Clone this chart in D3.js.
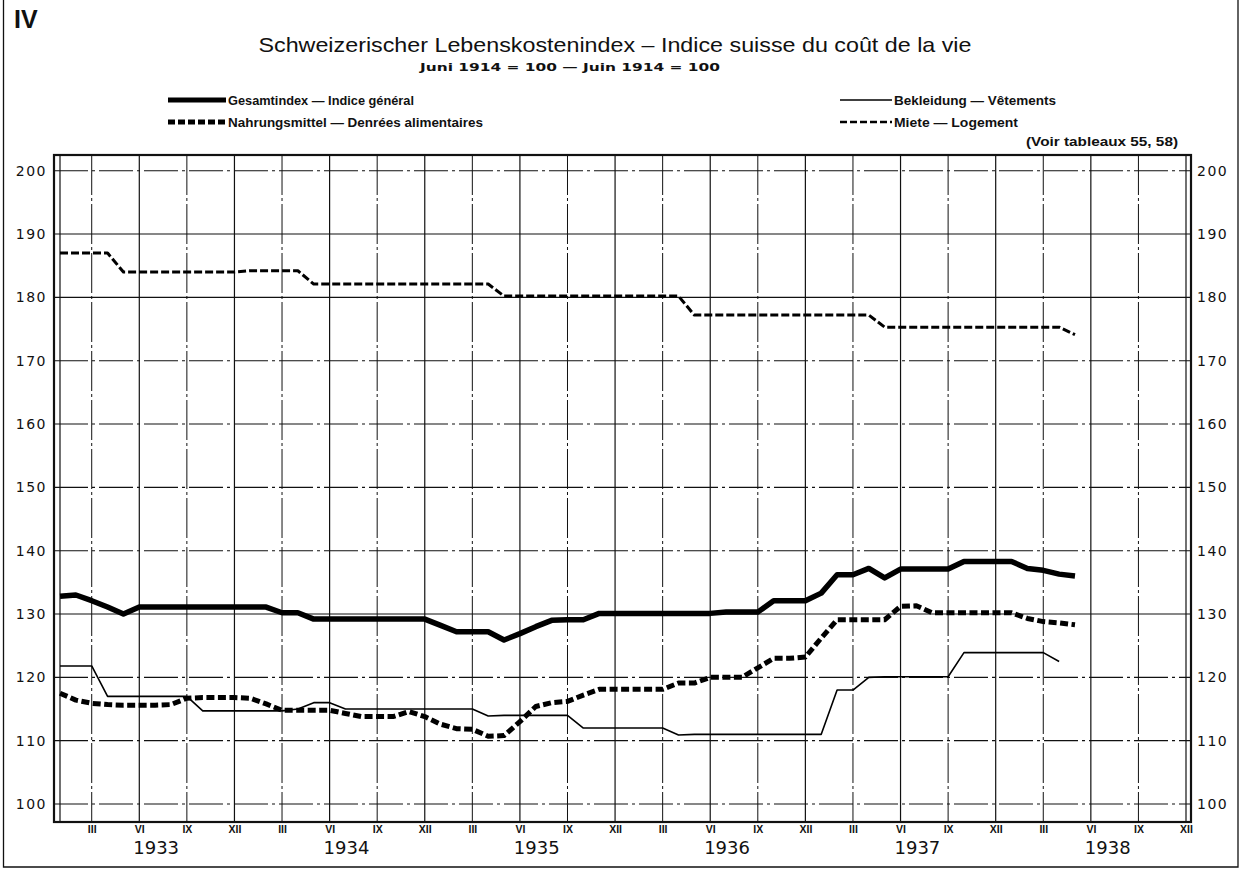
<!DOCTYPE html>
<html><head><meta charset="utf-8">
<script src="https://cdn.jsdelivr.net/npm/d3@7"></script>
<style>body{margin:0;background:#fff}svg{display:block}</style>
</head><body>
<svg id="c" width="1243" height="869"></svg>
<script>
// ---- DATA (monthly, first value = January 1933) ----
const gesamtindex = [132.8,133.0,132.1,131.1,130.0,131.1,131.1,131.1,131.1,131.1,131.1,131.1,
  131.1,131.1,130.2,130.2,129.2,129.2,129.2,129.2,129.2,129.2,129.2,129.2,
  128.2,127.2,127.2,127.2,125.9,126.9,128.0,129.0,129.1,129.1,130.1,130.1,
  130.1,130.1,130.1,130.1,130.1,130.1,130.3,130.3,130.3,132.1,132.1,132.1,
  133.3,136.2,136.2,137.2,135.7,137.1,137.1,137.1,137.1,138.3,138.3,138.3,
  138.3,137.2,136.9,136.3,136.0];
const nahrungsmittel = [117.5,116.4,115.9,115.7,115.6,115.6,115.6,115.7,116.7,116.8,116.8,116.8,
  116.7,115.8,114.8,114.8,114.8,114.8,114.3,113.8,113.8,113.8,114.6,113.8,
  112.6,111.9,111.8,110.7,110.8,113.0,115.4,116.0,116.2,117.2,118.1,118.1,
  118.1,118.1,118.1,119.1,119.1,120.0,120.0,120.0,121.5,123.0,123.0,123.2,
  126.2,129.1,129.1,129.1,129.1,131.2,131.3,130.2,130.2,130.2,130.2,130.2,
  130.2,129.3,128.8,128.6,128.3];
const bekleidung = [121.8,121.8,121.8,117.0,117.0,117.0,117.0,117.0,117.0,114.7,114.7,114.7,
  114.7,114.7,114.7,115.0,116.0,116.0,115.0,115.0,115.0,115.0,115.0,115.0,
  115.0,115.0,115.0,113.9,114.0,114.0,114.0,114.0,114.0,112.0,112.0,112.0,
  112.0,112.0,112.0,110.9,111.0,111.0,111.0,111.0,111.0,111.0,111.0,111.0,
  111.0,118.0,118.0,120.0,120.1,120.1,120.1,120.1,120.1,123.9,123.9,123.9,
  123.9,123.9,123.9,122.5];
const miete = [187.0,187.0,187.0,187.0,184.0,184.0,184.0,184.0,184.0,184.0,184.0,184.0,
  184.2,184.2,184.2,184.2,182.1,182.1,182.1,182.1,182.1,182.1,182.1,182.1,
  182.1,182.1,182.1,182.1,180.2,180.2,180.2,180.2,180.2,180.2,180.2,180.2,
  180.2,180.2,180.2,180.2,177.2,177.2,177.2,177.2,177.2,177.2,177.2,177.2,
  177.2,177.2,177.2,177.2,175.3,175.3,175.3,175.3,175.3,175.3,175.3,175.3,
  175.3,175.3,175.3,175.3,174.1];
const yTicks = [100,110,120,130,140,150,160,170,180,190,200];
const monthTicks = [3,6,9,12,15,18,21,24,27,30,33,36,39,42,45,48,51,54,57,60,63,66,69,72];
const romanLabels = ["III","VI","IX","XII"];
const years = ["1933","1934","1935","1936","1937","1938"];

// ---- DRAWING ----
const svg = d3.select("#c");
const x = d3.scaleLinear().domain([1,72]).range([60,1186]);
const y = d3.scaleLinear().domain([100,200]).range([804,170.7]);
const fL = 54, fR = 1191, fT = 155, fB = 822;
const ink = "#111";

// outer border
svg.append("path").attr("d",`M3.5,0 V867 H1238 V0`).attr("fill","none").attr("stroke",ink).attr("stroke-width",1.3);

// horizontal grid
const solidH = new Set([130,180,190]);
svg.append("g").selectAll("line").data(yTicks).join("line")
  .attr("x1",fL).attr("x2",fR).attr("y1",d=>y(d)).attr("y2",d=>y(d))
  .attr("stroke",ink).attr("stroke-width",1.1)
  .attr("stroke-dasharray",d=>solidH.has(d)?null:"34,4,3,4");

// vertical grid
const vLines = [1].concat(monthTicks);
svg.append("g").selectAll("line").data(vLines).join("line")
  .attr("x1",d=>x(d)).attr("x2",d=>x(d)).attr("y1",fT).attr("y2",fB)
  .attr("stroke",ink).attr("stroke-width",d=>(d%6===0||d===1)?1.2:1)
  .attr("stroke-dasharray",d=>(d%6===0||d===1)?null:"40,3,3,3");

// frame
svg.append("rect").attr("x",fL).attr("y",fT).attr("width",fR-fL).attr("height",fB-fT)
  .attr("fill","none").attr("stroke",ink).attr("stroke-width",2.2);

// axes
const numFont = "DejaVu Sans";
const yl = svg.append("g").attr("transform",`translate(${fL},0)`)
  .call(d3.axisLeft(y).tickValues(yTicks).tickSize(0).tickPadding(7));
const yr = svg.append("g").attr("transform",`translate(${fR},0)`)
  .call(d3.axisRight(y).tickValues(yTicks).tickSize(0).tickPadding(6));
[yl,yr].forEach(g=>{
  g.select(".domain").remove();
  g.selectAll("text").attr("font-family",numFont).attr("font-size",14)
   .attr("letter-spacing",1.5).attr("fill",ink);
});
const xa = svg.append("g").attr("transform",`translate(0,${fB})`)
  .call(d3.axisBottom(x).tickValues(monthTicks).tickSize(0).tickPadding(4)
  .tickFormat(m=>romanLabels[((m/3)-1)%4]));
xa.select(".domain").remove();
xa.selectAll("text").attr("font-family","Liberation Sans").attr("font-size",10.5)
  .attr("font-weight","bold").attr("fill",ink);

svg.append("g").selectAll("text").data(years).join("text")
  .attr("x",(d,i)=>x(12*i+7)+1).attr("y",854).attr("text-anchor","middle")
  .attr("font-family","DejaVu Sans").attr("font-size",18).attr("fill",ink).text(d=>d);

// series
const line = d3.line().x((d,i)=>x(i+1)).y(d=>y(d));
const series = [
  {data:miete, w:3, dash:"8,3"},
  {data:bekleidung, w:1.6, dash:null},
  {data:nahrungsmittel, w:5, dash:"8,3.5"},
  {data:gesamtindex, w:5.5, dash:null}
];
svg.append("g").selectAll("path").data(series).join("path")
  .attr("d",s=>line(s.data)).attr("fill","none").attr("stroke","#000")
  .attr("stroke-width",s=>s.w).attr("stroke-dasharray",s=>s.dash)
  .attr("stroke-linejoin","round");

// titles
const tf = "Liberation Sans";
svg.append("text").attr("x",14).attr("y",28).attr("font-family",tf).attr("font-weight","bold")
  .attr("font-size",25).attr("fill",ink).text("IV");
svg.append("text").attr("x",615).attr("y",52).attr("text-anchor","middle").attr("font-family",tf)
  .attr("font-size",21).attr("fill",ink).attr("textLength",713).attr("lengthAdjust","spacingAndGlyphs")
  .text("Schweizerischer Lebenskostenindex – Indice suisse du coût de la vie");
svg.append("text").attr("x",570).attr("y",71).attr("text-anchor","middle").attr("font-family","DejaVu Sans")
  .attr("font-size",10.5).attr("font-weight","bold").attr("fill",ink)
  .attr("textLength",300).attr("lengthAdjust","spacingAndGlyphs")
  .text("Juni 1914 = 100  —  Juin 1914 = 100");

// legend
const legend = [
  {x0:168,x1:226,y:100,w:5,dash:null,t:"Gesamtindex — Indice général",len:186},
  {x0:168,x1:226,y:122,w:5,dash:"7,3",t:"Nahrungsmittel — Denrées alimentaires",len:255},
  {x0:840,x1:892,y:100,w:1.6,dash:null,t:"Bekleidung — Vêtements",len:162},
  {x0:840,x1:892,y:122,w:2.5,dash:"7,3",t:"Miete — Logement",len:124}
];
const lg = svg.append("g").selectAll("g").data(legend).join("g");
lg.append("line").attr("x1",d=>d.x0).attr("x2",d=>d.x1).attr("y1",d=>d.y).attr("y2",d=>d.y)
  .attr("stroke","#000").attr("stroke-width",d=>d.w).attr("stroke-dasharray",d=>d.dash);
lg.append("text").attr("x",d=>d.x1+2).attr("y",d=>d.y+4.5).attr("font-family",tf)
  .attr("font-size",13).attr("font-weight","bold").attr("fill",ink)
  .attr("textLength",d=>d.len).attr("lengthAdjust","spacingAndGlyphs").text(d=>d.t);
svg.append("text").attr("x",1178).attr("y",146).attr("text-anchor","end").attr("font-family",tf)
  .attr("font-size",13).attr("font-weight","bold").attr("fill",ink)
  .attr("textLength",152).attr("lengthAdjust","spacingAndGlyphs").text("(Voir tableaux 55, 58)");
</script>
</body></html>
